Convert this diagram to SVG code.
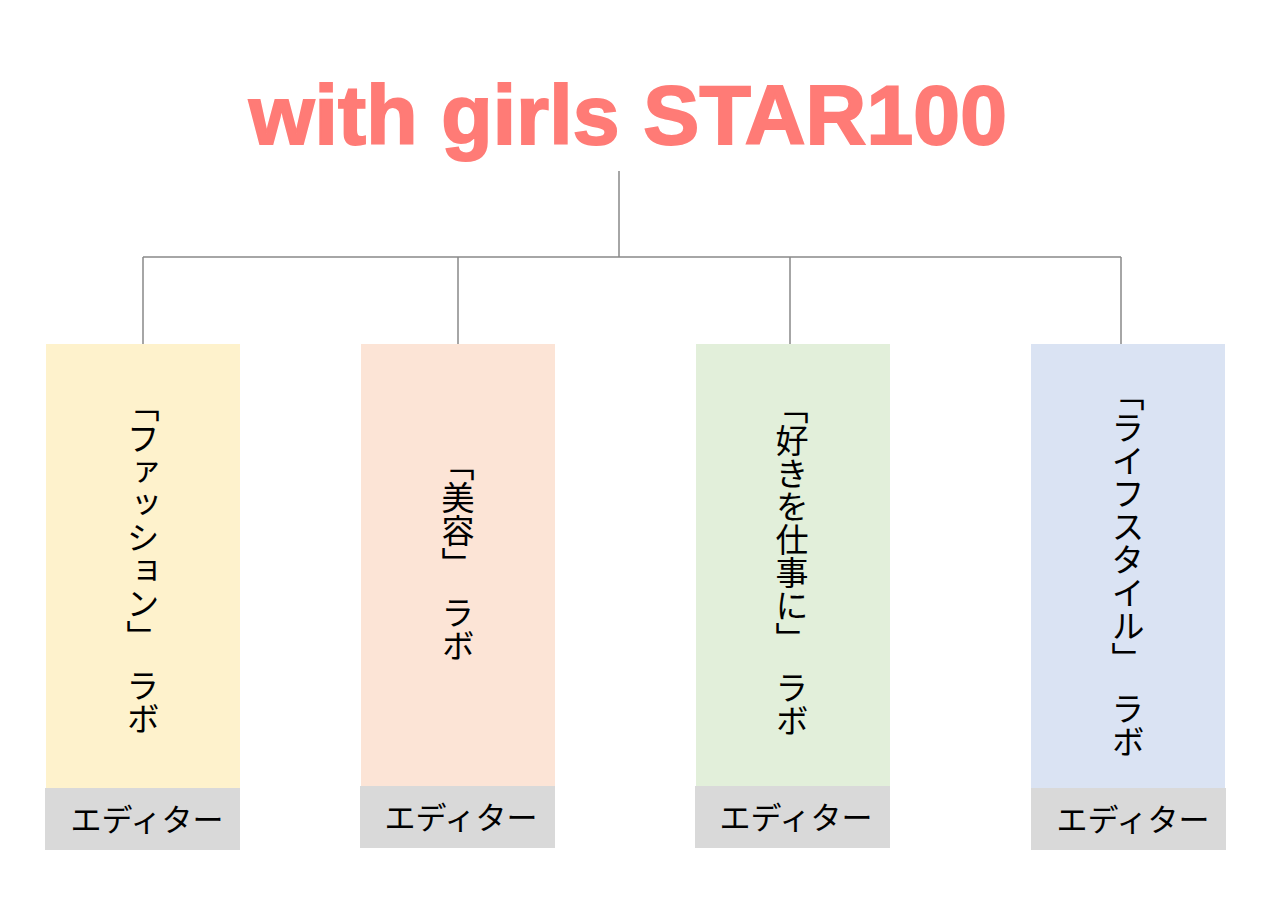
<svg xmlns="http://www.w3.org/2000/svg" width="1280" height="917" viewBox="0 0 1280 917">
<style>
.title{font-family:"Liberation Sans",Arial,sans-serif;font-weight:bold;font-size:84px;fill:#FF7B76;stroke:#FF7B76;stroke-width:2}
.vt{font-family:"Noto Sans CJK JP","Noto Sans",sans-serif;font-size:33px;fill:#000;writing-mode:vertical-rl;text-anchor:middle}
.ed{font-family:"Noto Sans CJK JP","Noto Sans",sans-serif;font-size:31px;fill:#000;text-anchor:middle}
.gray{fill:#D9D9D9}
.conn line{stroke:#898989;stroke-width:1.5;fill:none}
</style>
<rect width="1280" height="917" fill="#fff"/>
<g id="title"><text class="title" x="249" y="144" textLength="758">with girls STAR100</text></g>
<g id="connectors" class="conn">
<line x1="619" y1="171" x2="619" y2="257"/>
<line x1="143" y1="257" x2="1121" y2="257"/>
<line x1="143" y1="257" x2="143" y2="344"/>
<line x1="458" y1="257" x2="458" y2="344"/>
<line x1="790" y1="257" x2="790" y2="344"/>
<line x1="1121" y1="257" x2="1121" y2="344"/>
</g>
<g id="node-fashion">
<rect x="46" y="344" width="194" height="444" fill="#FEF2CC"/>
<text class="vt" x="143" y="562">「ファッション」　ラボ</text>
<rect class="gray" x="45" y="788" width="195" height="62"/>
<text class="ed" x="147" y="831">エディター</text>
</g>
<g id="node-beauty">
<rect x="361" y="344" width="194" height="442" fill="#FCE4D6"/>
<text class="vt" x="458" y="555">「美容」　ラボ</text>
<rect class="gray" x="360" y="786" width="195" height="62"/>
<text class="ed" x="461" y="829">エディター</text>
</g>
<g id="node-work">
<rect x="696" y="344" width="194" height="442" fill="#E2EFDA"/>
<text class="vt" x="792" y="564">「好きを仕事に」　ラボ</text>
<rect class="gray" x="695" y="786" width="195" height="62"/>
<text class="ed" x="796" y="829">エディター</text>
</g>
<g id="node-lifestyle">
<rect x="1031" y="344" width="194" height="444" fill="#DAE3F3"/>
<text class="vt" x="1128" y="568">「ライフスタイル」　ラボ</text>
<rect class="gray" x="1031" y="788" width="195" height="62"/>
<text class="ed" x="1133" y="831">エディター</text>
</g>
</svg>
